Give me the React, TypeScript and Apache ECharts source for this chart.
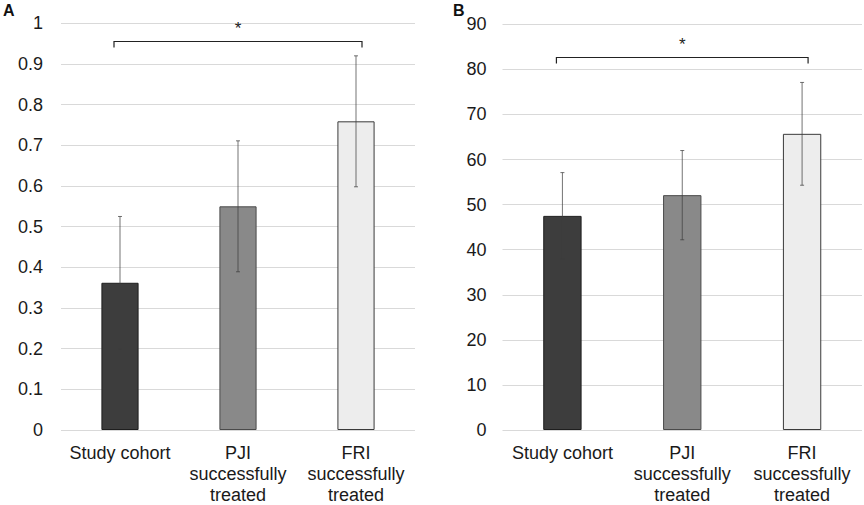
import React, { useEffect, useRef } from "react";
import * as echarts from "echarts";

const categories = ["Study cohort", "PJI\nsuccessfully\ntreated", "FRI\nsuccessfully\ntreated"];
const valuesA = [0.362, 0.55, 0.759];
const errorsA = [0.163, 0.161, 0.161];
const valuesB = [47.5, 52.1, 65.7];
const errorsB = [9.6, 9.9, 11.4];
const ticksA = { min: 0, max: 1, interval: 0.1 };
const ticksB = { min: 0, max: 90, interval: 10 };
// bracket: [fromCategory, y, toCategory]
const bracketA = [[0, 0.957, 2]];
const bracketB = [[0, 82.8, 2]];
const panelLabels = ["A", "B"];

const barColors = ["#3d3d3d", "#898989", "#ededed"];
const barBorders = ["#1e1e1e", "#4a4a4a", "#3a3a3a"];
const FONT = "Liberation Sans, Arial, sans-serif";

function errorRender(params: any, api: any) {
  const c = api.value(0);
  const v = api.value(1);
  const e = api.value(2);
  const top = api.coord([c, v + e]);
  const bot = api.coord([c, v - e]);
  const st = { stroke: "rgba(61,61,61,0.72)", lineWidth: 1 };
  return {
    type: "group",
    children: [
      { type: "line", shape: { x1: top[0], y1: top[1], x2: bot[0], y2: bot[1] }, style: st },
      { type: "line", shape: { x1: top[0] - 2, y1: top[1], x2: top[0] + 2, y2: top[1] }, style: st },
      { type: "line", shape: { x1: bot[0] - 2, y1: bot[1], x2: bot[0] + 2, y2: bot[1] }, style: st },
    ],
  };
}

function bracketRender(params: any, api: any) {
  const a = api.coord([api.value(0), api.value(1)]);
  const b = api.coord([api.value(2), api.value(1)]);
  const x1 = a[0] - 6;
  const x2 = b[0] + 6;
  const y = Math.round(a[1]) + 0.5;
  const st = { stroke: "#222", lineWidth: 1.2, fill: "none" };
  return {
    type: "group",
    children: [
      { type: "polyline", shape: { points: [[x1, y + 6], [x1, y], [x2, y], [x2, y + 6]] }, style: st },
      {
        type: "text",
        style: {
          text: "*",
          x: (x1 + x2) / 2,
          y: y - 5,
          align: "center",
          verticalAlign: "bottom",
          fontSize: 17,
          fontFamily: FONT,
          fill: "#222",
        },
      },
    ],
  };
}

export default function App() {
  const ref = useRef<HTMLDivElement>(null);
  useEffect(() => {
    const chart = echarts.init(ref.current!, null, { renderer: "svg" });
    const mkX = (gi: number) => ({
      type: "category",
      gridIndex: gi,
      data: categories,
      axisLine: { show: false },
      axisTick: { show: false },
      axisLabel: { fontSize: 18, fontFamily: FONT, color: "#1a1a1a", lineHeight: 21, margin: 12, interval: 0 },
    });
    const mkY = (gi: number, t: any, margin: number) => ({
      type: "value",
      gridIndex: gi,
      min: t.min,
      max: t.max,
      interval: t.interval,
      axisLine: { show: false },
      axisTick: { show: false },
      axisLabel: { fontSize: 18, fontFamily: FONT, color: "#1a1a1a", margin },
      splitLine: { lineStyle: { color: "#d9d9d9", width: 1 } },
    });
    const barData = (vals: number[]) =>
      vals.map((v, i) => ({
        value: v,
        itemStyle: { color: barColors[i], borderColor: barBorders[i], borderWidth: 1 },
      }));
    chart.setOption({
      animation: false,
      grid: [
        { left: 61, right: 449, top: 23.3, bottom: 74 },
        { left: 502.5, right: 2, top: 24.3, bottom: 73.3 },
      ],
      xAxis: [mkX(0), mkX(1)],
      yAxis: [mkY(0, ticksA, 18), mkY(1, ticksB, 16)],
      graphic: [
        { type: "text", left: 3, top: 2, style: { text: panelLabels[0], fontSize: 16, fontWeight: "bold", fontFamily: FONT, fill: "#111" } },
        { type: "text", left: 453, top: 2, style: { text: panelLabels[1], fontSize: 16, fontWeight: "bold", fontFamily: FONT, fill: "#111" } },
      ],
      series: [
        { type: "bar", xAxisIndex: 0, yAxisIndex: 0, barWidth: "31.5%", data: barData(valuesA) },
        { type: "bar", xAxisIndex: 1, yAxisIndex: 1, barWidth: "32%", data: barData(valuesB) },
        {
          type: "custom", xAxisIndex: 0, yAxisIndex: 0, z: 5,
          data: valuesA.map((v, i) => [i, v, errorsA[i]]),
          encode: { x: 0, y: 1 },
          renderItem: errorRender,
        },
        {
          type: "custom", xAxisIndex: 1, yAxisIndex: 1, z: 5,
          data: valuesB.map((v, i) => [i, v, errorsB[i]]),
          encode: { x: 0, y: 1 },
          renderItem: errorRender,
        },
        { type: "custom", xAxisIndex: 0, yAxisIndex: 0, z: 5, data: bracketA, encode: { x: 0, y: 1 }, renderItem: bracketRender },
        { type: "custom", xAxisIndex: 1, yAxisIndex: 1, z: 5, data: bracketB, encode: { x: 0, y: 1 }, renderItem: bracketRender },
      ],
    });
    return () => chart.dispose();
  }, []);
  return (
    <div
      ref={ref}
      style={{ position: "fixed", left: 0, top: 0, width: 864, height: 505, background: "#fff" }}
    />
  );
}
